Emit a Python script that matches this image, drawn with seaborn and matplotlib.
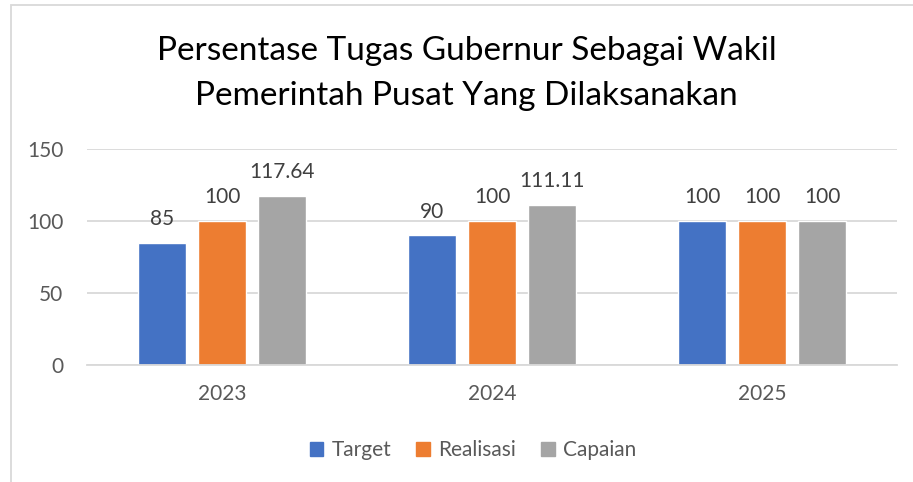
import pandas as pd
import matplotlib.pyplot as plt
from matplotlib.patches import Rectangle
import seaborn as sns

# data
years = ['2023', '2024', '2025']
series = ['Target', 'Realisasi', 'Capaian']
target = [85, 90, 100]
realisasi = [100, 100, 100]
capaian = [117.64, 111.11, 100]
label_text = {
    'Target': ['85', '90', '100'],
    'Realisasi': ['100', '100', '100'],
    'Capaian': ['117.64', '111.11', '100'],
}

df = pd.DataFrame({
    'year': years * 3,
    'series': [s for s in series for _ in years],
    'value': target + realisasi + capaian,
})

sns.set_theme(style='white')
plt.rcParams['font.family'] = ['Lato', 'DejaVu Sans']

colors = ['#4472C4', '#ED7D31', '#A5A5A5']
grid_c = '#D9D9D9'
txt_c = '#595959'

fig = plt.figure(figsize=(9.13, 4.82), dpi=100)
ax = fig.add_axes([87 / 913, 1 - 365 / 482, 810 / 913, 216 / 482])

sns.barplot(data=df, x='year', y='value', hue='series', hue_order=series,
            palette=colors, width=0.667, gap=0.2, saturation=1,
            ax=ax, legend=False)

ax.set_xlim(-0.5, 2.5)
ax.set_ylim(0, 150)
ax.set_yticks([0, 50, 100, 150])
ax.yaxis.grid(True, color=grid_c, linewidth=1.3)
ax.set_axisbelow(True)
for side in ['top', 'right', 'left']:
    ax.spines[side].set_visible(False)
ax.spines['bottom'].set_color(grid_c)
ax.spines['bottom'].set_linewidth(1.3)
ax.tick_params(axis='both', length=0, labelsize=15, colors=txt_c)
ax.tick_params(axis='y', pad=17)
ax.tick_params(axis='x', pad=14)
ax.set_xlabel('')
ax.set_ylabel('')

for cont, s in zip(ax.containers, series):
    ax.bar_label(cont, labels=label_text[s], padding=10, fontsize=15, color='#404040')

fig.text(0.511, 1 - 51 / 482, 'Persentase Tugas Gubernur Sebagai Wakil',
         ha='center', va='center', fontsize=24, color='black')
fig.text(0.511, 1 - 96 / 482, 'Pemerintah Pusat Yang Dilaksanakan',
         ha='center', va='center', fontsize=24, color='black')

handles = [Rectangle((0, 0), 1, 1, color=c) for c in colors]
leg = fig.legend(handles, series, loc='center', bbox_to_anchor=(473 / 913, 1 - 450 / 482),
                 ncol=3, frameon=False, fontsize=15, handlelength=0.65, handleheight=0.65,
                 handletextpad=0.4, columnspacing=1.2)
for t in leg.get_texts():
    t.set_color(txt_c)

# chart area border (Excel style)
fig.patches.append(Rectangle((11 / 913, -0.1), 1.0, 1 - 5 / 482 + 0.1,
                             transform=fig.transFigure, fill=False,
                             edgecolor=grid_c, linewidth=1.3))

fig.savefig('out.png', dpi=100)
